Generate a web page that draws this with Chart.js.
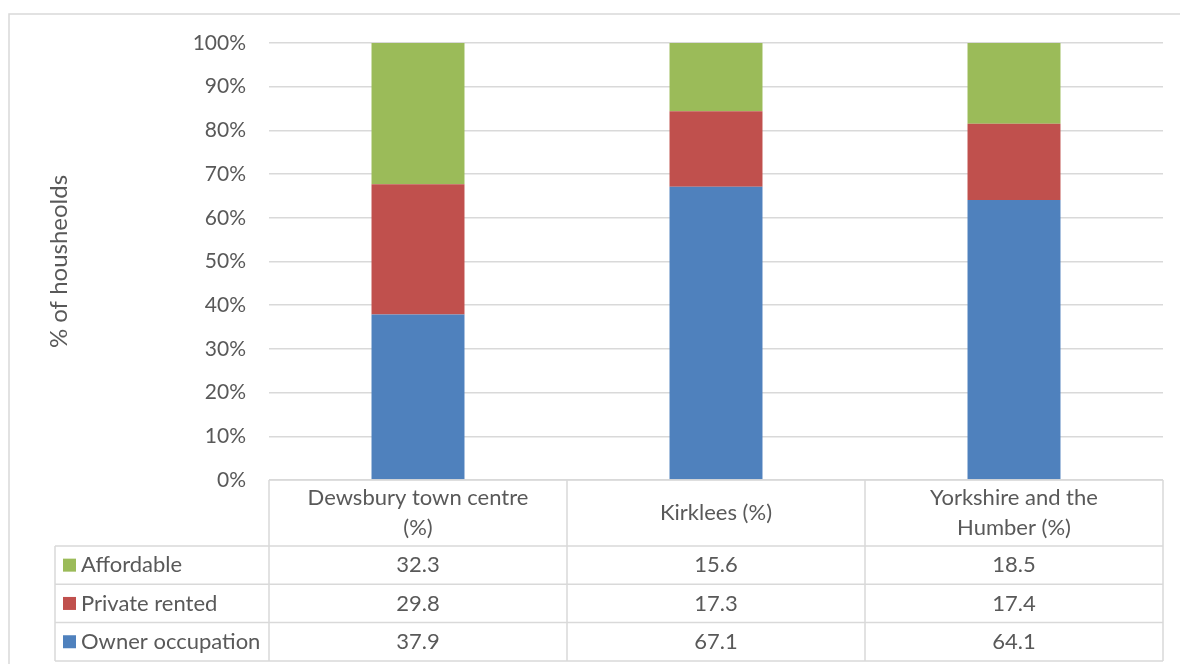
<!DOCTYPE html>
<html>
<head>
<meta charset="utf-8">
<script src="https://cdn.jsdelivr.net/npm/chart.js@4.4.1/dist/chart.umd.min.js"></script>
<style>
  html, body { margin: 0; padding: 0; background: #fff; }
  #wrap { width: 1180px; height: 664px; position: relative; }
</style>
</head>
<body>
<div id="wrap"><canvas id="chart" width="1180" height="664"></canvas></div>
<script>
// tenure split by area, each column sums to 100
const categories = [['Dewsbury town centre', '(%)'], ['Kirklees (%)'], ['Yorkshire and the', 'Humber (%)']];
const affordable = [32.3, 15.6, 18.5];
const privateRented = [29.8, 17.3, 17.4];
const ownerOccupation = [37.9, 67.1, 64.1];
const yTickStep = 10;
const yMax = 100;

const textColor = '#595959';
const lineColor = '#d9d9d9';
const fontFamily = 'Lato, "Noto Sans", sans-serif';
const tableFontSize = 22;
const tickFontSize = 21;
const titleFontSize = 24;

// table rows are listed top to bottom, the stack is drawn bottom to top
const tableRows = [
  { label: 'Affordable', values: affordable, color: '#9bbb59' },
  { label: 'Private rented', values: privateRented, color: '#c0504d' },
  { label: 'Owner occupation', values: ownerOccupation, color: '#4f81bd' },
];

const frame = {
  id: 'frame',
  beforeDraw(chart) {
    const ctx = chart.ctx;
    ctx.save();
    ctx.fillStyle = '#fff';
    ctx.fillRect(0, 0, chart.width, chart.height);
    ctx.strokeStyle = lineColor;
    ctx.lineWidth = 1.5;
    ctx.strokeRect(9, 14, chart.width + 20, chart.height + 20);
    ctx.restore();
  }
};

// data table under the plot, replacing the category axis
const dataTable = {
  id: 'dataTable',
  afterDraw(chart) {
    const ctx = chart.ctx;
    const area = chart.chartArea;
    const n = categories.length;
    const colW = (area.right - area.left) / n;
    const legendLeft = 55;
    const headTop = area.bottom;
    const headBottom = 546;
    const rowH = 38.3;
    const tableBottom = headBottom + rowH * tableRows.length;

    ctx.save();
    ctx.strokeStyle = lineColor;
    ctx.lineWidth = 1.5;
    ctx.beginPath();
    // header box
    ctx.moveTo(area.left, headTop);
    ctx.lineTo(area.right, headTop);
    for (let i = 0; i <= n; i++) {
      const x = area.left + i * colW;
      ctx.moveTo(x, headTop);
      ctx.lineTo(x, tableBottom);
    }
    // row lines
    for (let r = 0; r <= tableRows.length; r++) {
      const y = headBottom + r * rowH;
      ctx.moveTo(legendLeft, y);
      ctx.lineTo(area.right, y);
    }
    ctx.moveTo(legendLeft, headBottom);
    ctx.lineTo(legendLeft, tableBottom);
    ctx.stroke();

    ctx.fillStyle = textColor;
    ctx.font = tableFontSize + 'px ' + fontFamily;
    ctx.textAlign = 'center';
    ctx.textBaseline = 'middle';
    const headMid = (headTop + headBottom) / 2;
    categories.forEach((lines, i) => {
      const cx = chart.scales.x.getPixelForValue(i);
      const lh = 30;
      lines.forEach((line, j) => {
        ctx.fillText(line, cx, headMid + (j - (lines.length - 1) / 2) * lh);
      });
    });

    tableRows.forEach((row, r) => {
      const cy = headBottom + (r + 0.5) * rowH;
      ctx.fillStyle = row.color;
      ctx.fillRect(63, cy - 6.5, 13, 13);
      ctx.fillStyle = textColor;
      ctx.textAlign = 'left';
      ctx.fillText(row.label, 81, cy);
      ctx.textAlign = 'center';
      row.values.forEach((v, i) => {
        ctx.fillText(v.toFixed(1), chart.scales.x.getPixelForValue(i), cy);
      });
    });
    ctx.restore();
  }
};

new Chart(document.getElementById('chart'), {
  type: 'bar',
  data: {
    labels: categories.map(c => c.join(' ')),
    datasets: [
      { label: 'Owner occupation', data: ownerOccupation, backgroundColor: '#4f81bd' },
      { label: 'Private rented', data: privateRented, backgroundColor: '#c0504d' },
      { label: 'Affordable', data: affordable, backgroundColor: '#9bbb59' },
    ]
  },
  options: {
    responsive: false,
    animation: false,
    datasets: { bar: { categoryPercentage: 1, barPercentage: 0.312 } },
    layout: { padding: { left: 0, right: 17, top: 43, bottom: 184 } },
    scales: {
      x: { stacked: true, display: false },
      y: {
        stacked: true,
        min: 0,
        max: yMax,
        afterFit(scale) { scale.width = 269; },
        border: { display: false },
        grid: { color: lineColor, lineWidth: 1.5, drawTicks: false },
        ticks: {
          stepSize: yTickStep,
          padding: 23,
          color: textColor,
          font: { family: fontFamily, size: tickFontSize },
          callback: v => v + '%'
        },
        title: {
          display: true,
          text: '% of housheolds',
          color: textColor,
          font: { family: fontFamily, size: titleFontSize },
          padding: { top: 45, bottom: 0 }
        }
      }
    },
    plugins: {
      legend: { display: false },
      tooltip: { enabled: false }
    }
  },
  plugins: [frame, dataTable]
});
</script>
</body>
</html>
